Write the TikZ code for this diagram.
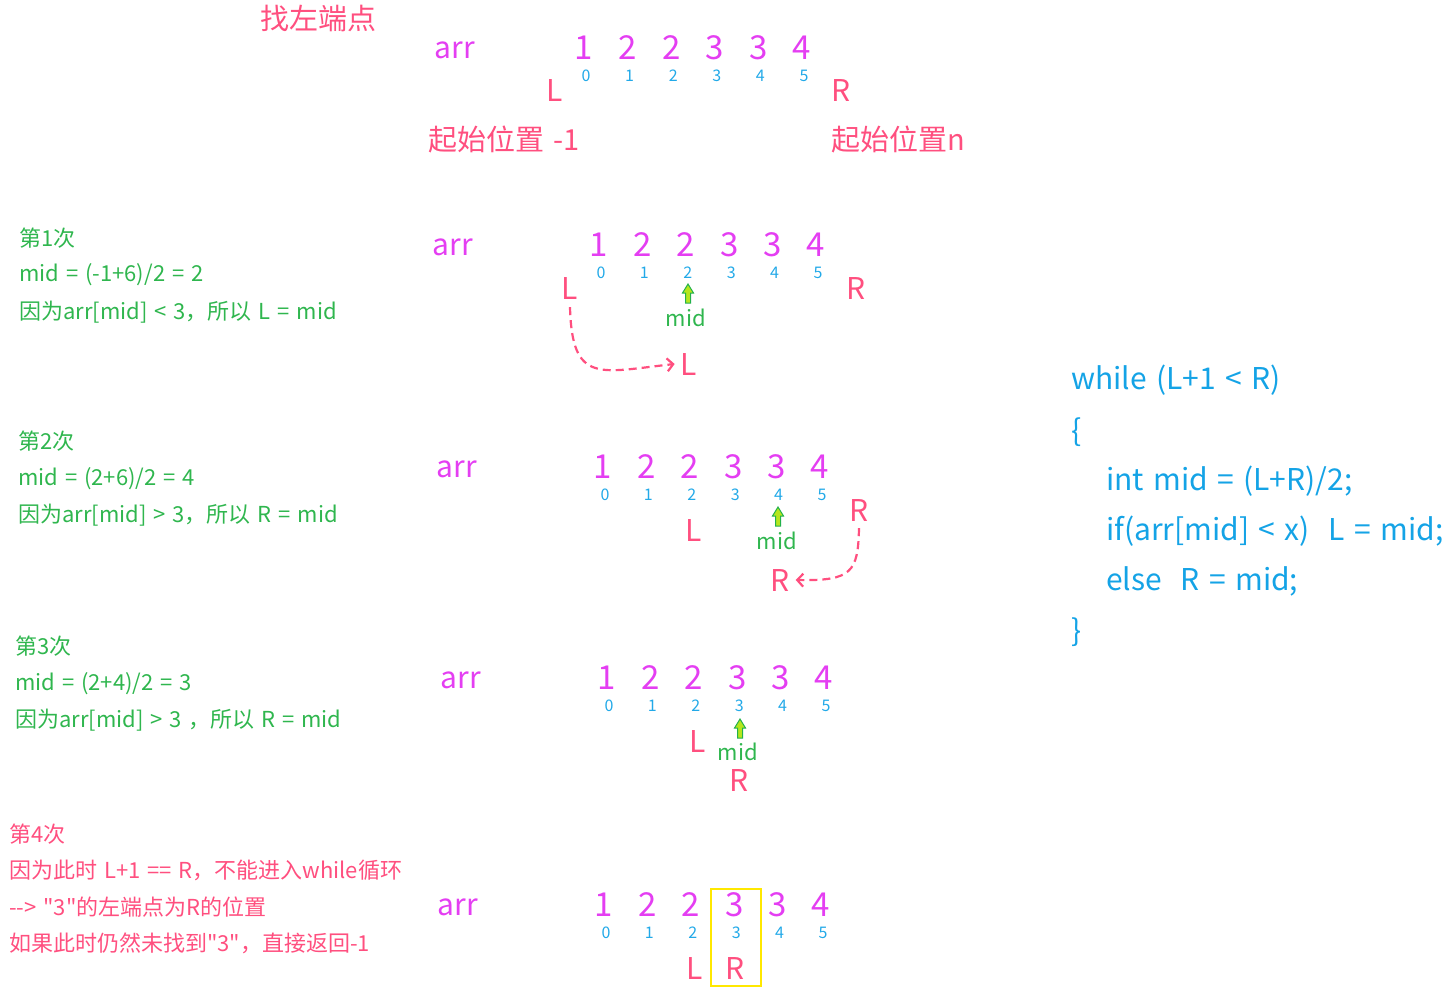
\documentclass[tikz,border=0pt]{standalone}
\usepackage{fontspec}
\setmainfont{Noto Sans CJK SC}[Ligatures=TeXOff,WordSpace=1.4]
\usetikzlibrary{arrows.meta}
\definecolor{valmag}{HTML}{E43EF2}
\definecolor{idxblue}{HTML}{22A9E8}
\definecolor{ptrred}{HTML}{FF4F7F}
\definecolor{notegreen}{HTML}{2FB64E}
\definecolor{codeblue}{HTML}{14A3E6}
\definecolor{hlyellow}{HTML}{FFE800}
\definecolor{upfill}{HTML}{B5E61D}
\definecolor{upline}{HTML}{22B14C}
\tikzset{
  every node/.style={inner sep=0},
  val/.style={font=\fontsize{33}{36}\selectfont,text=valmag},
  idx/.style={font=\fontsize{16}{18}\selectfont,text=idxblue},
  ptr/.style={font=\fontsize{30}{34}\selectfont,text=ptrred},
  arrname/.style={font=\fontsize{30}{34}\selectfont,text=valmag},
  title/.style={font=\fontsize{29}{34}\selectfont,text=ptrred},
  note/.style={font=\fontsize{22}{25}\selectfont,text=notegreen,anchor=west,text height=.76em,text depth=.12em,yshift=-5pt},
  warn/.style={note,text=ptrred},
  code/.style={font=\fontsize{30}{36}\selectfont,text=codeblue,anchor=west,text height=.76em,text depth=.12em,yshift=-8pt},
  midtag/.style={font=\fontsize{22}{26}\selectfont,text=notegreen},
  jump/.style={draw=ptrred,line width=2.2pt,dash pattern=on 8pt off 5pt,-{Straight Barb[length=6pt,width=13pt,line width=2.2pt]}},
  hlbox/.style={draw=hlyellow,line width=2.6pt,minimum width=50pt,minimum height=97pt},
  midup/.pic={\draw[draw=upline,fill=upfill,line width=1pt] (-2.5,10) -- (-2.5,0) -- (-5.5,0) -- (0,-9) -- (5.5,0) -- (2.5,0) -- (2.5,10) -- cycle;}
}
\begin{document}
\begin{tikzpicture}[x=1pt,y=-1pt]
\path[use as bounding box] (0,0) rectangle (1453,996);
% start state
\node[title] (head) at (318,19) {找左端点};
\node[arrname] (arr0) at (455,50) {arr};
\foreach \v [count=\i from 0] in {1,2,2,3,3,4} {
  \node[val] (a0-\i) at ({584+43.6*\i},48) {\v};
  \node[idx] (n0-\i) at ({586+43.6*\i},76) {\i};
}
\node[ptr] (L0) at (555,91) {L};
\node[ptr] (R0) at (841,91) {R};
\node[title,anchor=west] (startL) at (428,139) {起始位置 -1};
\node[title,anchor=west] (startR) at (831,139) {起始位置n};
% round 1
\node[note] (s1a) at (19,238) {第1次};
\node[note] (s1b) at (19,273) {mid = (-1+6)/2 = 2};
\node[note] (s1c) at (19,311) {因为arr[mid] < 3，所以 L = mid};
\node[arrname] (arr1) at (453,247) {arr};
\foreach \v [count=\i from 0] in {1,2,2,3,3,4} {
  \node[val] (a1-\i) at ({599+43.4*\i},245) {\v};
  \node[idx] (n1-\i) at ({601+43.4*\i},273) {\i};
}
\node[ptr] (L1) at (570,288) {L};
\node[ptr] (R1) at (856,288) {R};
\pic (up1) at (688,293) {midup};
\node[midtag] (mid1) at (686,318) {mid};
\node[ptr] (L1b) at (689,364) {L};
\draw[jump] ([yshift=-8pt]L1.south) .. controls (572,385) and (600,372) .. ([xshift=-6pt]L1b.west);
% round 2
\node[note] (s2a) at (18,441) {第2次};
\node[note] (s2b) at (18,477) {mid = (2+6)/2 = 4};
\node[note] (s2c) at (18,514) {因为arr[mid] > 3，所以 R = mid};
\node[arrname] (arr2) at (457,469) {arr};
\foreach \v [count=\i from 0] in {1,2,2,3,3,4} {
  \node[val] (a2-\i) at ({603+43.4*\i},467) {\v};
  \node[idx] (n2-\i) at ({605+43.4*\i},495) {\i};
}
\node[ptr] (L2) at (694,530) {L};
\pic (up2) at (778,516) {midup};
\node[midtag] (mid2) at (777,541) {mid};
\node[ptr] (R2) at (859,510) {R};
\node[ptr] (R2b) at (780,580) {R};
\draw[jump] ([yshift=-7pt]R2.south) .. controls (858,572) and (852,581) .. ([xshift=6pt]R2b.east);
% round 3
\node[note] (s3a) at (15,646) {第3次};
\node[note] (s3b) at (15,682) {mid = (2+4)/2 = 3};
\node[note] (s3c) at (15,719) {因为arr[mid] > 3 ，所以 R = mid};
\node[arrname] (arr3) at (461,680) {arr};
\foreach \v [count=\i from 0] in {1,2,2,3,3,4} {
  \node[val] (a3-\i) at ({607+43.4*\i},678) {\v};
  \node[idx] (n3-\i) at ({609+43.4*\i},706) {\i};
}
\node[ptr] (L3) at (698,741) {L};
\pic (up3) at (740,728) {midup};
\node[midtag] (mid3) at (738,752) {mid};
\node[ptr] (R3) at (739,780) {R};
% round 4
\node[warn] (s4a) at (9,834) {第4次};
\node[warn] (s4b) at (9,870) {因为此时 L+1 == R，不能进入while循环};
\node[warn] (s4c) at (9,907) {--> "3"的左端点为R的位置};
\node[warn] (s4d) at (9,943) {如果此时仍然未找到"3"，直接返回-1};
\node[arrname] (arr4) at (458,907) {arr};
\foreach \v [count=\i from 0] in {1,2,2,3,3,4} {
  \node[val] (a4-\i) at ({604+43.4*\i},905) {\v};
  \node[idx] (n4-\i) at ({606+43.4*\i},933) {\i};
}
\node[ptr] (L4) at (695,968) {L};
\node[ptr] (R4) at (735,968) {R};
\node[hlbox] (pick) at (736,937.5) {};
% loop code
\node[code] (c1) at (1071,378) {while (L+1 < R)};
\node[code] (c2) at (1071,430) {\{};
\node[code] (c3) at (1106,479) {int mid = (L+R)/2;};
\node[code] (c4) at (1106,529) {if(arr[mid] < x)~ L = mid;};
\node[code] (c5) at (1106,579) {else~ R = mid;};
\node[code] (c6) at (1071,630) {\}};
\end{tikzpicture}
\end{document}
